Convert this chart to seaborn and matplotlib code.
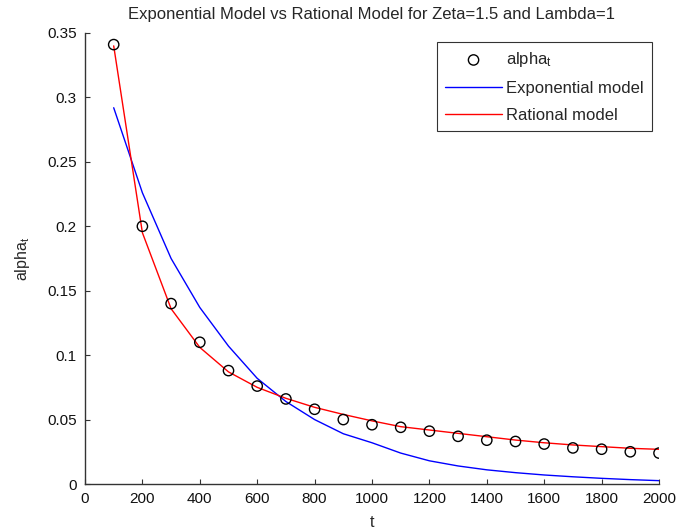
import matplotlib
matplotlib.use("Agg")
import matplotlib.pyplot as plt
import seaborn as sns
import pandas as pd

t = [100, 200, 300, 400, 500, 600, 700, 800, 900, 1000,
     1100, 1200, 1300, 1400, 1500, 1600, 1700, 1800, 1900, 2000]
alpha_t = [0.341, 0.200, 0.140, 0.110, 0.088, 0.076, 0.066, 0.058, 0.050, 0.046,
           0.044, 0.041, 0.037, 0.034, 0.033, 0.031, 0.028, 0.027, 0.025, 0.024]
exp_model = [0.292, 0.226, 0.175, 0.137, 0.107, 0.082, 0.064, 0.050, 0.039, 0.032,
             0.024, 0.018, 0.014, 0.011, 0.0088, 0.0070, 0.0056, 0.0044, 0.0034, 0.0026]
rat_model = [0.340, 0.195, 0.136, 0.106, 0.087, 0.075, 0.0665, 0.0595, 0.054, 0.049,
             0.0445, 0.0419, 0.0393, 0.0367, 0.0341, 0.032, 0.0303, 0.029, 0.0277, 0.0269]
x_ticks = [0, 200, 400, 600, 800, 1000, 1200, 1400, 1600, 1800, 2000]
y_ticks = [0, 0.05, 0.1, 0.15, 0.2, 0.25, 0.3, 0.35]
y_tick_labels = ["0", "0.05", "0.1", "0.15", "0.2", "0.25", "0.3", "0.35"]

df = pd.DataFrame({"t": t, "alpha": alpha_t, "exp": exp_model, "rat": rat_model})

sns.set_style("white")
plt.rcParams["font.family"] = ["Liberation Sans", "DejaVu Sans"]
plt.rcParams["mathtext.default"] = "regular"

fig = plt.figure(figsize=(6.79, 5.31), dpi=100)
ax = fig.add_axes([85 / 679, 47 / 531, 574 / 679, 451 / 531])

sns.scatterplot(data=df, x="t", y="alpha", ax=ax, marker="o", s=55,
                facecolors="none", edgecolor="black", linewidth=1.0,
                label="alpha$_t$", zorder=3)
sns.lineplot(data=df, x="t", y="exp", ax=ax, color="#0000ff", linewidth=1.0,
             label="Exponential model")
sns.lineplot(data=df, x="t", y="rat", ax=ax, color="#ff0000", linewidth=1.0,
             label="Rational model")

ax.set_xlim(0, 2000)
ax.set_ylim(0, 0.35)
ax.set_xticks(x_ticks)
ax.set_yticks(y_ticks)
ax.set_yticklabels(y_tick_labels)
ax.tick_params(bottom=True, left=True, direction="in", length=3.6, width=0.8,
               labelsize=11, colors="#333333", labelcolor="#111111")
ax.tick_params(axis="x", pad=6)
ax.tick_params(axis="y", pad=6)
for side in ["top", "right"]:
    ax.spines[side].set_visible(False)
for side in ["left", "bottom"]:
    ax.spines[side].set_color("#333333")
    ax.spines[side].set_linewidth(1.0)

ax.set_xlabel("t", fontsize=11.5, labelpad=6)
ax.set_ylabel("alpha$_t$", fontsize=11.5, labelpad=11)
ax.set_title("Exponential Model vs Rational Model for Zeta=1.5 and Lambda=1",
             fontsize=12, pad=10)

leg = ax.legend(loc="upper right", fontsize=12, frameon=True,
                fancybox=False, edgecolor="black", handlelength=3.4,
                handletextpad=0.25, borderpad=0.5, labelspacing=0.7,
                borderaxespad=0)
leg.get_frame().set_linewidth(0.8)
leg.set_bbox_to_anchor((652 / 679, (531 - 42) / 531), transform=fig.transFigure)

fig.savefig("out.png", dpi=100)
